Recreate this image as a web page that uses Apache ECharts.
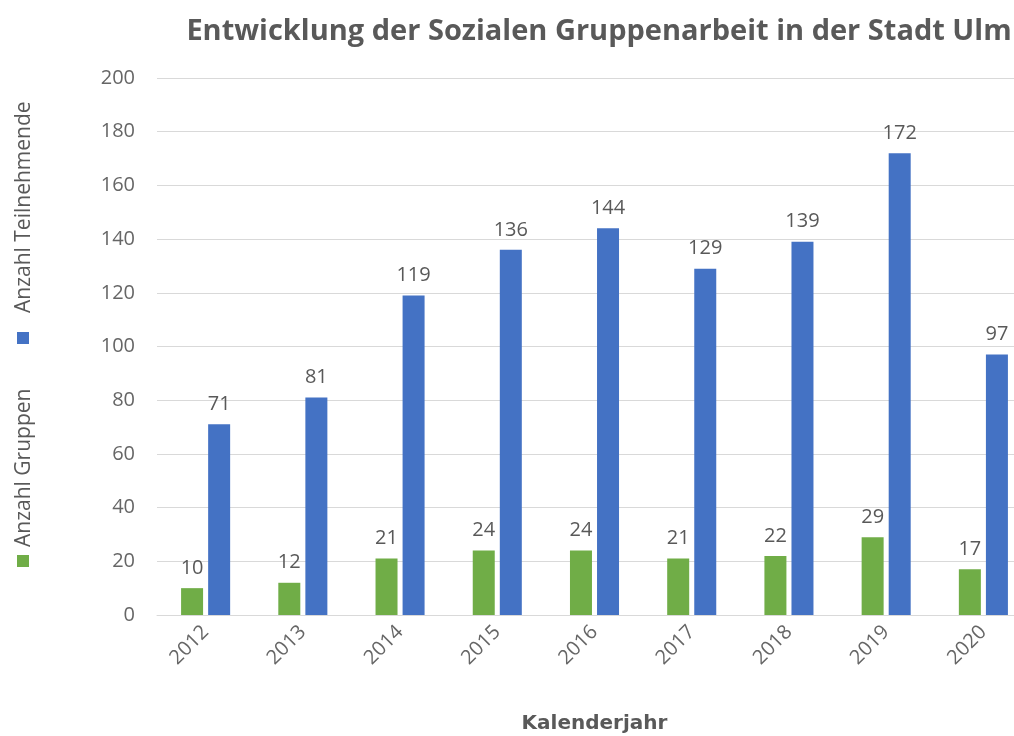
<!DOCTYPE html>
<html><head><meta charset="utf-8">
<script src="https://cdn.jsdelivr.net/npm/echarts@6/dist/echarts.min.js"></script>
<style>html,body{margin:0;padding:0;background:#fff;overflow:hidden}#c{width:1014px;height:736px}</style>
</head><body><div id="c"></div>
<script>
const title = 'Entwicklung der Sozialen Gruppenarbeit in der Stadt Ulm';
const xTitle = 'Kalenderjahr';
const years = ['2012','2013','2014','2015','2016','2017','2018','2019','2020'];
const seriesNames = ['Anzahl Gruppen','Anzahl Teilnehmende'];
const gruppen = [10,12,21,24,24,21,22,29,17];
const teilnehmende = [71,81,119,136,144,129,139,172,97];
const colors = ['#70AD47','#4472C4'];
const FONT = '"Open Sans", "Noto Sans", sans-serif';
const chart = echarts.init(document.getElementById('c'));
const lbl = {show:true, position:'top', distance:10, color:'#595959', fontSize:20, fontFamily:FONT};
chart.setOption({
  animation:false,
  title:{text:title, left:594, top:12, textAlign:'center',
    textStyle:{fontFamily:FONT, fontWeight:'bold', fontSize:29, color:'#595959'}},
  grid:{left:157, top:78, bottom:121, width:875, outerBoundsMode:'none', containLabel:false},
  xAxis:{type:'category', data:years, name:xTitle, nameLocation:'middle', nameGap:99,
    nameTextStyle:{fontFamily:'"DejaVu Sans", sans-serif', fontWeight:'bold', fontSize:20, color:'#595959'},
    axisLine:{lineStyle:{color:'#d9d9d9'}}, axisTick:{show:false},
    axisLabel:{rotate:45, color:'#666666', fontSize:20, fontFamily:FONT, margin:14}},
  yAxis:{type:'value', min:0, max:200, interval:20,
    axisLine:{show:false}, axisTick:{show:false},
    splitLine:{lineStyle:{color:'#d9d9d9', width:1}},
    axisLabel:{color:'#666666', fontSize:20, fontFamily:FONT, margin:22}},
  series:[
    {name:seriesNames[0], type:'bar', data:gruppen, barWidth:22, barGap:'23%', itemStyle:{color:colors[0]}, label:lbl},
    {name:seriesNames[1], type:'bar', data:teilnehmende, barWidth:22, barGap:'23%', itemStyle:{color:colors[1]}, label:lbl}
  ],
  graphic:[
    {type:'rect', shape:{x:17, y:555, width:12, height:12}, style:{fill:colors[0]}},
    {type:'text', x:24, y:547, rotation:Math.PI/2, style:{text:seriesNames[0], fill:'#595959', fontSize:21, fontFamily:FONT, textAlign:'left', textVerticalAlign:'middle'}},
    {type:'rect', shape:{x:17, y:332, width:12, height:12}, style:{fill:colors[1]}},
    {type:'text', x:24, y:313, rotation:Math.PI/2, style:{text:seriesNames[1], fill:'#595959', fontSize:21, fontFamily:FONT, textAlign:'left', textVerticalAlign:'middle'}}
  ]
});
</script></body></html>
